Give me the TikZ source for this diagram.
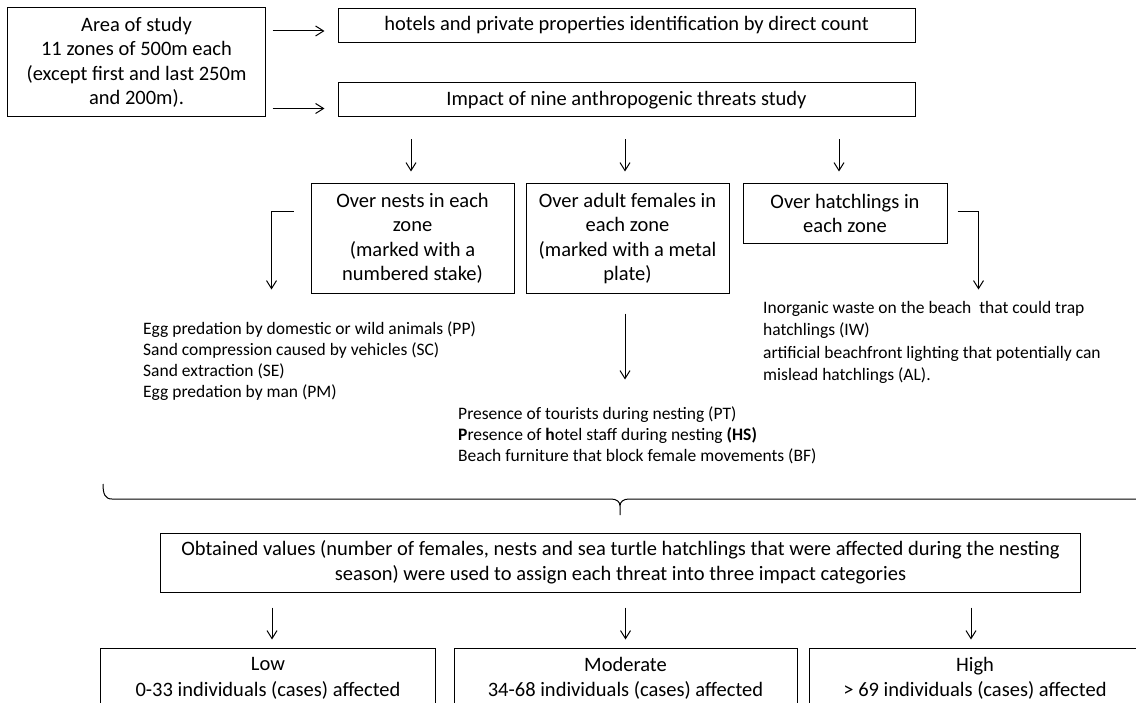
\documentclass[tikz,border=0pt]{standalone}
\usepackage{fontspec}
\setmainfont{Carlito}
\usetikzlibrary{arrows.meta,calc}
\newcommand{\boxfont}{\fontsize{20.5bp}{24.4bp}\selectfont}
\newcommand{\bigfont}{\fontsize{20.5bp}{25.5bp}\selectfont}
\newcommand{\listfont}{\fontsize{17.5bp}{21bp}\selectfont}
\newcommand{\listfontb}{\fontsize{17.5bp}{22.5bp}\selectfont}
\begin{document}
\begin{tikzpicture}[x=1bp,y=-1bp,
  box/.style={draw, line width=1bp, inner sep=0pt, align=center, font=\boxfont},
  arr/.style={line width=1bp, -{Straight Barb[length=8bp,width=10bp]}},
  lst/.style={anchor=north west, inner sep=0pt, align=left, font=\listfont},
  bracestyle/.style={line width=1bp, line join=round}]
\clip (0,0) rectangle (1136,703);
% top row
\node[box, minimum width=257bp, minimum height=109bp] (area) at (136.5,62.5)
  {Area of study\\11 zones of 500m each\\(except first and last 250m\\and 200m).};
\node[box, minimum width=577bp, minimum height=34bp] (hotels) at (626.5,25.5)
  {hotels and private properties identification by direct count};
\node[box, minimum width=577bp, minimum height=34bp] (impact) at (626.5,100)
  {Impact of nine anthropogenic threats study};
% second row
\node[box, minimum width=203bp, minimum height=109bp] (nest) at (412.5,238.5)
  {Over nests in each\\zone\\(marked with a\\numbered stake)};
\node[box, minimum width=203bp, minimum height=109bp] (female) at (627.5,238.5)
  {Over adult females in\\each zone\\(marked with a metal\\plate)};
\node[box, minimum width=204bp, minimum height=59bp] (hatch) at (845,213.5)
  {Over hatchlings in\\each zone};
% lists
\node[lst] (ppl) at (143,321)
  {Egg predation by domestic or wild animals (PP)\\Sand compression caused by vehicles (SC)\\Sand extraction (SE)\\Egg predation by man (PM)};
\node[lst] (ptl) at (458,406)
  {Presence of tourists during nesting (PT)\\\textbf{P}resence of \textbf{h}otel staff during nesting \textbf{(HS)}\\Beach furniture that block female movements (BF)};
\node[lst, font=\listfontb] (iwl) at (763,301)
  {Inorganic waste on the beach\ \ that could trap\\hatchlings (IW)\\artificial beachfront lighting that potentially can\\mislead hatchlings (AL).};
% brace
\draw[bracestyle] (103,484) .. controls (103,494) and (105,499) .. (112,499)
  -- (611,499) .. controls (617,499) and (620,502) .. (620,506) -- (620,515)
  (620,506) .. controls (620,502) and (623,499) .. (629,499) -- (1140,499);
% big box
\node[box, font=\bigfont, minimum width=919bp, minimum height=59bp] (big) at (620.5,562.5)
  {Obtained values (number of females, nests and sea turtle hatchlings that were affected during the nesting\\season) were used to assign each threat into three impact categories};
% bottom boxes
\node[box, font=\bigfont, minimum width=334bp, minimum height=61bp] (low) at (268,678.5)
  {Low\\0-33 individuals (cases) affected};
\node[box, font=\bigfont, minimum width=343bp, minimum height=61bp] (mod) at (625.5,678.5)
  {Moderate\\34-68 individuals (cases) affected};
\node[box, font=\bigfont, minimum width=332bp, minimum height=61bp] (high) at (975,678.5)
  {High\\> 69 individuals (cases) affected};
% connectors
\coordinate (h1) at ($(hotels.west)+(0,5.5)$);
\coordinate (i1) at ($(impact.west)+(0,8.5)$);
\draw[arr, shorten <=7bp, shorten >=13bp] (area.east |- h1) -- (h1);
\draw[arr, shorten <=7bp, shorten >=13bp] (area.east |- i1) -- (i1);
\coordinate (n1) at ($(nest.north)+(-1.5,0)$);
\coordinate (f1) at ($(female.north)+(-2.5,0)$);
\coordinate (t1) at ($(hatch.north)+(-6,0)$);
\draw[arr, shorten <=22bp, shorten >=12bp] (n1 |- impact.south) -- (n1);
\draw[arr, shorten <=22bp, shorten >=12bp] (f1 |- impact.south) -- (f1);
\draw[arr, shorten <=22bp, shorten >=12bp] (t1 |- impact.south) -- (t1);
\coordinate (nl) at ($(nest.north west)+(-17,28)$);
\coordinate (nlend) at ($(nl)+(-22,78)$);
\draw[arr] (nl) -| (nlend);
\coordinate (hr) at ($(hatch.north east)+(10,28)$);
\coordinate (hrend) at ($(hr)+(21,78)$);
\draw[arr] (hr) -| (hrend);
\coordinate (fend) at ($(female.south)+(-2.5,86)$);
\draw[arr, shorten <=20bp] ($(female.south)+(-2.5,0)$) -- (fend);
\coordinate (l1) at ($(low.north)+(4,0)$);
\coordinate (m1) at ($(mod.north)+(0,0)$);
\coordinate (g1) at ($(high.north)+(-4,0)$);
\draw[arr, shorten <=15bp, shorten >=8bp] (l1 |- big.south) -- (l1);
\draw[arr, shorten <=15bp, shorten >=8bp] (m1 |- big.south) -- (m1);
\draw[arr, shorten <=15bp, shorten >=8bp] (g1 |- big.south) -- (g1);
\end{tikzpicture}
\end{document}
